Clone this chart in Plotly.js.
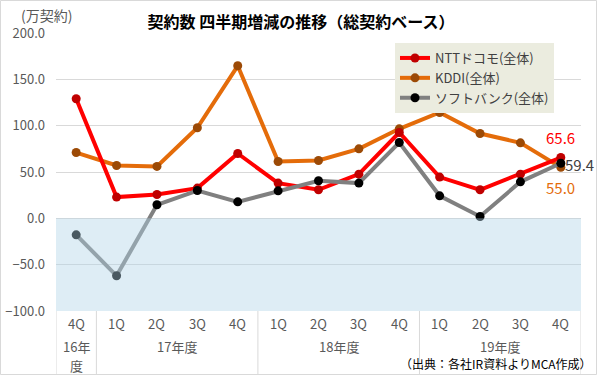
<!DOCTYPE html>
<html><head><meta charset="utf-8">
<script src="https://cdn.plot.ly/plotly-3.0.1.min.js"></script>
<style>html,body{margin:0;padding:0;background:#fff}#chart{width:597px;height:375px}</style>
</head><body><div id="chart"></div>
<script>
const quarters = ["4Q","1Q","2Q","3Q","4Q","1Q","2Q","3Q","4Q","1Q","2Q","3Q","4Q"];
const fiscalYears = ["17年度","18年度","19年度"];
const yearCenters = [2.5, 6.5, 10.5];
const firstYearLines = ["16年","度"];
const yearBounds = [-0.5, 0.5, 4.5, 8.5, 12.5];
const ntt = [129.0, 22.9, 25.7, 32.6, 70.0, 38.0, 30.8, 47.7, 92.6, 44.5, 30.8, 47.7, 65.6];
const kddi = [71.0, 57.0, 56.0, 97.7, 164.6, 61.3, 62.4, 75.0, 96.6, 114.2, 91.5, 81.5, 55.0];
const softbank = [-17.8, -62.0, 14.6, 30.0, 17.8, 29.7, 40.5, 38.0, 81.8, 24.3, 2.0, 39.4, 59.4];
const names = ["NTTドコモ(全体)", "KDDI(全体)", "ソフトバンク(全体)"];

const xs = quarters.map((q,i)=>i);
const F = "'Noto Sans CJK JP', 'Noto Sans', sans-serif";
const L = 56, T = 33, PW = 525, PH = 278;
const px = v => (v - L) / PW;
const py = v => (T + PH - v) / PH;

const traces = [
  {x: xs, y: kddi, name: names[1], type:'scatter', mode:'lines+markers', legendrank:2,
   line:{color:'#e46c0a', width:4}, marker:{color:'#9c4a06', size:9}},
  {x: xs, y: ntt, name: names[0], type:'scatter', mode:'lines+markers', legendrank:1,
   line:{color:'#ff0000', width:4}, marker:{color:'#c00000', size:9}},
  {x: xs, y: softbank, name: names[2], type:'scatter', mode:'lines+markers', legendrank:3,
   line:{color:'#808080', width:4}, marker:{color:'#000000', size:9}}
];

const shapes = [
  {type:'rect', xref:'paper', yref:'y', x0:0, x1:1, y0:-100, y1:0, layer:'above',
   fillcolor:'rgba(176,212,231,0.42)', line:{width:0}},
  {type:'rect', xref:'paper', yref:'paper', x0:px(0.5), x1:px(596.5), y0:py(374.5), y1:py(0.5),
   line:{color:'#d9d9d9', width:1}, fillcolor:'rgba(0,0,0,0)'}
];
yearBounds.forEach(b=>{
  shapes.push({type:'line', xref:'x', yref:'paper', x0:b, x1:b, y0:0, y1:py(375),
    line:{color:'#d9d9d9', width:1}});
});

const annotations = [];
quarters.forEach((q,i)=>{
  annotations.push({x:i, y:py(323), xref:'x', yref:'paper', text:q, showarrow:false,
    yanchor:'middle', font:{family:F, size:13, color:'#595959'}});
});
fiscalYears.forEach((t,i)=>{
  annotations.push({x:yearCenters[i], y:py(346), xref:'x', yref:'paper', text:t, showarrow:false,
    yanchor:'middle', font:{family:F, size:13, color:'#595959'}});
});
firstYearLines.forEach((t,i)=>{
  annotations.push({x:0, y:py(346 + i*19), xref:'x', yref:'paper', text:t, showarrow:false,
    yanchor:'middle', font:{family:F, size:13, color:'#595959'}});
});
annotations.push({x:12, y:ntt[12], xref:'x', yref:'y', text:ntt[12].toFixed(1), showarrow:false,
  yshift:20, font:{family:F, size:15, color:'#ff0000'}});
annotations.push({x:12, y:softbank[12], xref:'x', yref:'y', text:softbank[12].toFixed(1), showarrow:false,
  xanchor:'left', xshift:2, yshift:-1, font:{family:F, size:15, color:'#404040'}});
annotations.push({x:12, y:kddi[12], xref:'x', yref:'y', text:kddi[12].toFixed(1), showarrow:false,
  yshift:-20, font:{family:F, size:15, color:'#e46c0a'}});
annotations.push({x:px(20), y:py(15), xref:'paper', yref:'paper', text:'(万契約)', showarrow:false,
  xanchor:'left', yanchor:'middle', borderpad:0, font:{family:F, size:14, color:'#595959'}});
annotations.push({x:px(594), y:py(363), xref:'paper', yref:'paper', text:'（出典：各社IR資料よりMCA作成）', showarrow:false,
  xanchor:'right', yanchor:'middle', font:{family:F, size:12, color:'#000000'}});

const layout = {
  width:597, height:375,
  margin:{l:L, r:597-L-PW, t:T, b:375-T-PH},
  paper_bgcolor:'#ffffff', plot_bgcolor:'#ffffff',
  title:{text:'<b>契約数 四半期増減の推移（総契約ベース）</b>', x:301/597, xanchor:'center', y:1-22/375, yanchor:'middle',
    font:{family:F, size:16, color:'#000000'}},
  xaxis:{range:[-0.5,12.5], showticklabels:false, showgrid:false, zeroline:false, ticks:'', fixedrange:true},
  yaxis:{range:[-100,200], dtick:50, tickformat:'.1f', showgrid:true, gridcolor:'#d9d9d9', gridwidth:1,
    zeroline:false, ticks:'', tickfont:{family:F, size:13, color:'#595959'}, ticklabelstandoff:10},
  showlegend:true,
  legend:{x:px(395), xanchor:'left', y:py(43), yanchor:'top', bgcolor:'#ebecdf',
    font:{family:F, size:13, color:'#404040'}, tracegroupgap:0, itemwidth:30},
  shapes:shapes, annotations:annotations
};
Plotly.newPlot('chart', traces, layout, {displayModeBar:false, staticPlot:true});
</script></body></html>
